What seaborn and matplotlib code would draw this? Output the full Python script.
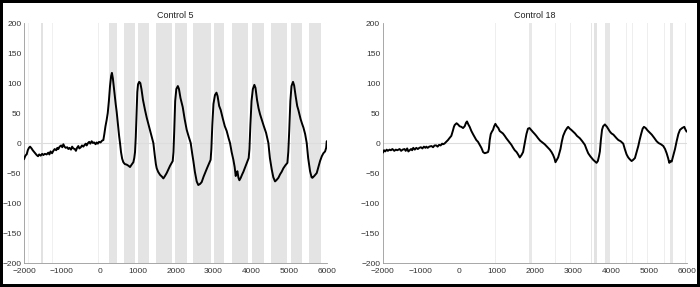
import numpy as np
import pandas as pd
import seaborn as sns
import matplotlib
matplotlib.use("Agg")
import matplotlib.pyplot as plt

# ---------------- data ----------------
titles = ["Control 5", "Control 18"]

c5_x = [-2000, -1970, -1950, -1930, -1900, -1870, -1840, -1800, -1770, -1730,
        -1700, -1666, -1630, -1600, -1560, -1520, -1490, -1450, -1402, -1360,
        -1330, -1300, -1260, -1226, -1190, -1150, -1120, -1094, -1060, -1020,
        -990, -962, -930, -900, -860, -830, -800, -760, -730, -698,
        -660, -630, -600, -566, -540, -500, -470, -434, -400, -370,
        -346, -310, -280, -250, -214, -180, -150, -110, -82, -50,
        -20, 20, 60, 94, 120, 150, 180, 210, 240, 270,
        300, 320, 345, 380, 420, 446, 480, 510, 534, 560,
        590, 622, 660, 710, 760, 798, 840, 886, 910, 930,
        950, 970, 990, 1010, 1040, 1070, 1100, 1140, 1194, 1240,
        1290, 1340, 1380, 1414, 1450, 1480, 1502, 1540, 1590, 1640,
        1678, 1720, 1766, 1810, 1854, 1900, 1925, 1945, 1965, 1990,
        2020, 2060, 2090, 2130, 2189, 2240, 2294, 2350, 2400, 2440,
        2470, 2510, 2558, 2600, 2650, 2690, 2740, 2778, 2830, 2893,
        2925, 2945, 2970, 3000, 3040, 3080, 3110, 3150, 3192, 3250,
        3300, 3350, 3400, 3438, 3480, 3526, 3560, 3588, 3610, 3632,
        3660, 3685, 3720, 3760, 3790, 3850, 3900, 3930, 3950, 3975,
        4005, 4040, 4080, 4110, 4150, 4190, 4230, 4280, 4330, 4389,
        4420, 4450, 4490, 4538, 4580, 4626, 4660, 4714, 4760, 4800,
        4846, 4900, 4952, 4975, 5000, 5030, 5060, 5100, 5130, 5170,
        5210, 5242, 5300, 5340, 5374, 5420, 5462, 5500, 5550, 5590,
        5612, 5660, 5726, 5770, 5814, 5860, 5902, 5946, 5975, 5990,
        6008]
c5_y = [-27, -22, -20, -19, -12, -8, -6, -9, -12, -15,
        -17, -20, -22, -19, -21, -18, -20, -18, -19, -16,
        -19, -14, -17, -13, -10, -12, -8, -10, -6, -4,
        -7, -2, -6, -8, -7, -10, -8, -11, -6, -9,
        -10, -13, -8, -5, -9, -7, -4, -6, -3, -1,
        -4, 0, 2, -1, 3, 0, 1, -2, 1, -1,
        2, 1, 4, 5, 15, 28, 38, 50, 70, 95,
        112, 117, 108, 88, 65, 52, 30, 12, 0, -15,
        -26, -32, -35, -36, -38, -40, -36, -32, -25, -15,
        10, 50, 85, 98, 102, 100, 90, 72, 55, 42,
        30, 18, 8, 0, -20, -35, -42, -48, -53, -56,
        -59, -55, -50, -44, -38, -33, -30, -15, 20, 70,
        90, 95, 90, 75, 60, 40, 22, 10, 0, -18,
        -30, -48, -64, -70, -68, -65, -56, -50, -42, -33,
        -28, -10, 30, 65, 80, 84, 78, 62, 55, 40,
        28, 20, 8, 0, -15, -28, -40, -55, -50, -47,
        -58, -62, -58, -52, -48, -38, -30, -25, -10, 30,
        70, 90, 97, 92, 72, 58, 48, 38, 28, 17,
        8, 0, -25, -44, -57, -64, -62, -58, -52, -48,
        -42, -37, -33, -15, 20, 70, 95, 102, 96, 78,
        62, 55, 40, 32, 26, 15, 0, -25, -47, -57,
        -58, -55, -50, -40, -30, -22, -17, -14, -8, 3,
        3]

c18_x = [-2000, -1970, -1940, -1900, -1870, -1824, -1790, -1750, -1700, -1660,
         -1620, -1560, -1520, -1480, -1430, -1400, -1360, -1330, -1297, -1260,
         -1230, -1200, -1160, -1121, -1080, -1040, -1000, -960, -920, -880,
         -857, -820, -780, -720, -680, -640, -594, -560, -520, -480,
         -440, -418, -380, -350, -320, -286, -250, -198, -160, -130,
         -110, -60, -22, 20, 66, 110, 154, 190, 215, 250,
         285, 330, 380, 417, 460, 505, 550, 593, 620, 637,
         681, 730, 769, 790, 813, 840, 870, 900, 930, 962,
         1000, 1040, 1076, 1120, 1160, 1208, 1250, 1300, 1340, 1384,
         1430, 1472, 1520, 1560, 1604, 1650, 1692, 1720, 1750, 1780,
         1820, 1860, 1900, 1956, 2000, 2040, 2087, 2140, 2200, 2260,
         2320, 2395, 2440, 2483, 2520, 2544, 2580, 2615, 2650, 2676,
         2710, 2747, 2800, 2850, 2878, 2920, 2960, 3010, 3060, 3110,
         3186, 3250, 3318, 3360, 3406, 3460, 3500, 3538, 3590, 3626,
         3660, 3690, 3714, 3740, 3770, 3800, 3846, 3900, 3950, 3978,
         4020, 4070, 4110, 4153, 4200, 4260, 4329, 4370, 4417, 4460,
         4500, 4549, 4590, 4637, 4680, 4725, 4760, 4800, 4840, 4874,
         4920, 4970, 5032, 5080, 5140, 5208, 5260, 5320, 5384, 5430,
         5472, 5510, 5542, 5575, 5604, 5650, 5692, 5735, 5780, 5823,
         5880, 5937, 5970, 5999]
c18_y = [-16, -12, -14, -11, -13, -11, -12, -10, -13, -11,
         -12, -10, -13, -11, -10, -13, -9, -14, -12, -10,
         -12, -8, -11, -8, -10, -8, -7, -9, -6, -8,
         -6, -8, -6, -5, -7, -4, -4, -6, -3, -4,
         -1, -2, -1, 1, 3, 5, 8, 12, 20, 27,
         30, 33, 31, 28, 27, 25, 28, 34, 36, 31,
         27, 20, 14, 10, 5, 2, -3, -8, -12, -15,
         -17, -16, -15, -10, 5, 15, 19, 22, 28, 32,
         28, 25, 20, 18, 16, 12, 8, 4, 1, -3,
         -8, -12, -15, -19, -24, -20, -15, -5, 5, 15,
         24, 25, 22, 18, 15, 12, 8, 4, 1, -2,
         -6, -11, -15, -20, -26, -32, -28, -24, -16, -10,
         2, 12, 20, 25, 27, 24, 22, 19, 16, 12,
         8, 3, -3, -10, -17, -22, -25, -28, -31, -33,
         -30, -22, -14, 5, 22, 28, 31, 27, 22, 19,
         16, 14, 11, 8, 5, 3, -1, -10, -19, -24,
         -27, -30, -28, -25, -15, -5, 5, 15, 24, 27,
         25, 21, 17, 14, 9, 3, 0, -2, -5, -10,
         -17, -25, -33, -30, -31, -20, -10, 3, 15, 22,
         25, 27, 22, 19]

# shaded epochs (start, end) and their tone
c5_spans = [(-1900, -1880), (-1545, -1490), (-1250, -1235), (-55, -30),
            (236, 447), (632, 931), (1011, 1301), (1477, 1917), (1988, 2296),
            (2472, 2930), (3009, 3282), (3502, 3924), (4021, 4329), (4523, 4954),
            (5042, 5341), (5509, 5835)]
c5_tone = ["#f0f0f0", "#e2e2e2", "#f0f0f0", "#eeeeee"] + ["#e4e4e4"] * 12

c18_spans = [(-30, -10), (180, 200), (955, 975), (1850, 1920), (2535, 2555),
             (2925, 2945), (3480, 3510), (3560, 3630), (3850, 3980), (4400, 4440),
             (4570, 4595), (4960, 4980), (5410, 5430), (5560, 5630), (5950, 5970)]
c18_tone = ["#eeeeee", "#eeeeee", "#eeeeee", "#e8e8e8", "#eeeeee",
            "#eeeeee", "#e6e6e6", "#e2e2e2", "#e6e6e6", "#eeeeee",
            "#eeeeee", "#eeeeee", "#eeeeee", "#e6e6e6", "#eeeeee"]

x_ticks = [-2000, -1000, 0, 1000, 2000, 3000, 4000, 5000, 6000]
y_ticks = [-200, -150, -100, -50, 0, 50, 100, 150, 200]

# ---------------- plot ----------------
sns.set_theme(style="white")
plt.rcParams['font.family'] = ['Liberation Sans', 'DejaVu Sans']

fig = plt.figure(figsize=(7.0, 2.87), dpi=100)
fig.patch.set_facecolor("white")
fig.patch.set_edgecolor("black")
fig.patch.set_linewidth(3)

axes = [fig.add_axes([0.0343, 0.0836, 0.433, 0.836]),
        fig.add_axes([0.547, 0.0836, 0.434, 0.836])]

datasets = [(c5_x, c5_y, c5_spans, c5_tone), (c18_x, c18_y, c18_spans, c18_tone)]

for ax, title, (xs, ys, spans, tones) in zip(axes, titles, datasets):
    for (a, b), col in zip(spans, tones):
        ax.axvspan(a, b, color=col, lw=0, zorder=0)
    ax.axhline(0, color="#dddddd", lw=0.8, zorder=1)
    df = pd.DataFrame({"t": xs, "v": ys})
    sns.lineplot(data=df, x="t", y="v", ax=ax, color="black", lw=1.4, zorder=3)
    ax.set_xlim(-2000, 6000)
    ax.set_ylim(-200, 200)
    ax.set_xticks(x_ticks)
    ax.set_yticks(y_ticks)
    ax.set_xlabel("")
    ax.set_ylabel("")
    ax.set_title(title, fontsize=6.5, pad=4, color="#222222")
    for s in ["top", "right"]:
        ax.spines[s].set_visible(False)
    for s in ["left", "bottom"]:
        ax.spines[s].set_color("#999999")
        ax.spines[s].set_linewidth(0.6)
    ax.tick_params(direction="in", length=2, width=0.5, colors="#888888",
                   labelsize=6, labelcolor="#333333", pad=2)
    ax.tick_params(axis="x", pad=3.5)
    ax.set_facecolor("white")

fig.savefig("out.png", dpi=100)
